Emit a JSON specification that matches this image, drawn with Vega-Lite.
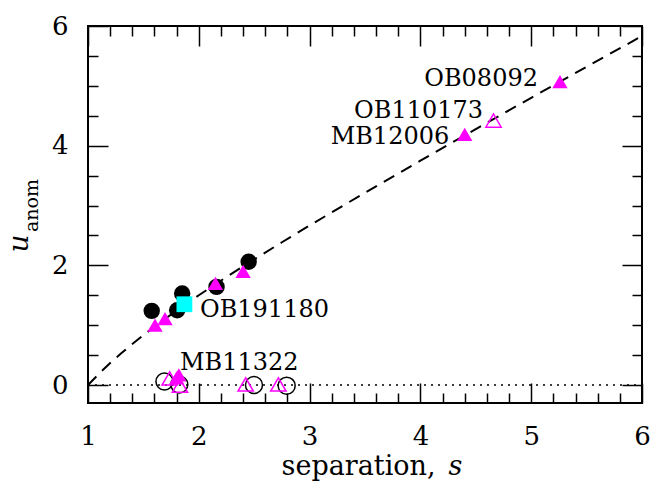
{
  "$schema": "https://vega.github.io/schema/vega-lite/v6.json",
  "width": 554,
  "height": 377,
  "autosize": {"type": "none"},
  "padding": {"left": 88, "top": 26, "right": 22, "bottom": 100},
  "background": "white",
  "config": {
    "view": {"stroke": "black", "strokeWidth": 2},
    "axis": {
      "domain": false,
      "grid": false,
      "tickColor": "black",
      "tickWidth": 1.5,
      "labelFont": "DejaVu Serif",
      "labelFontSize": 26,
      "labelColor": "black",
      "labelOverlap": false,
      "labelFlush": false,
      "labelBound": false,
      "titleFont": "DejaVu Serif",
      "titleColor": "black",
      "titleFontWeight": "normal"
    }
  },
  "datasets": {
    "zero": [{"s": 1, "u": 0}, {"s": 6, "u": 0}],
    "curve": [
      {"s": 1.0, "u": 0.0},
      {"s": 1.1, "u": 0.1909},
      {"s": 1.2, "u": 0.3667},
      {"s": 1.3, "u": 0.5308},
      {"s": 1.4, "u": 0.6857},
      {"s": 1.5, "u": 0.8333},
      {"s": 1.6, "u": 0.975},
      {"s": 1.7, "u": 1.1118},
      {"s": 1.8, "u": 1.2444},
      {"s": 1.9, "u": 1.3737},
      {"s": 2.0, "u": 1.5},
      {"s": 2.25, "u": 1.8056},
      {"s": 2.5, "u": 2.1},
      {"s": 2.75, "u": 2.3864},
      {"s": 3.0, "u": 2.6667},
      {"s": 3.5, "u": 3.2143},
      {"s": 4.0, "u": 3.75},
      {"s": 4.5, "u": 4.2778},
      {"s": 5.0, "u": 4.8},
      {"s": 5.5, "u": 5.3182},
      {"s": 6.0, "u": 5.8333}
    ],
    "points": [
      {"kind": "open circle", "s": 1.69, "u": 0.06},
      {"kind": "open circle", "s": 1.824, "u": 0.01},
      {"kind": "open circle", "s": 2.498, "u": 0.0},
      {"kind": "open circle", "s": 2.793, "u": -0.01},
      {"kind": "filled circle", "s": 1.575, "u": 1.24},
      {"kind": "filled circle", "s": 1.805, "u": 1.25},
      {"kind": "filled circle", "s": 1.85, "u": 1.53},
      {"kind": "filled circle", "s": 2.16, "u": 1.64},
      {"kind": "filled circle", "s": 2.45, "u": 2.06},
      {"kind": "square", "s": 1.87, "u": 1.35},
      {"kind": "open triangle", "s": 1.737, "u": 0.11},
      {"kind": "open triangle", "s": 1.83, "u": -0.01},
      {"kind": "open triangle", "s": 2.423, "u": 0.01},
      {"kind": "open triangle", "s": 2.718, "u": 0.01},
      {"kind": "open triangle", "s": 4.66, "u": 4.42},
      {"kind": "filled triangle", "s": 1.605, "u": 1.0},
      {"kind": "filled triangle", "s": 1.695, "u": 1.11},
      {"kind": "filled triangle", "s": 2.15, "u": 1.7},
      {"kind": "filled triangle", "s": 2.4, "u": 1.9},
      {"kind": "filled triangle", "s": 1.8, "u": 0.12},
      {"kind": "filled triangle", "s": 1.82, "u": 0.17},
      {"kind": "filled triangle", "s": 4.4, "u": 4.19},
      {"kind": "filled triangle", "s": 5.26, "u": 5.07}
    ],
    "labels": [
      {"name": "OB08092", "s": 5.061, "u": 5.0, "side": "right"},
      {"name": "OB110173", "s": 4.565, "u": 4.457, "side": "right"},
      {"name": "MB12006", "s": 4.26, "u": 4.03, "side": "right"},
      {"name": "OB191180", "s": 2.011, "u": 1.142, "side": "left"},
      {"name": "MB11322", "s": 1.83, "u": 0.245, "side": "left"}
    ]
  },
  "layer": [
    {
      "data": {"name": "zero"},
      "mark": {"type": "line", "color": "black", "strokeWidth": 1.5, "strokeDash": [2, 5]},
      "encoding": {
        "x": {
          "field": "s", "type": "quantitative",
          "scale": {"domain": [1, 6], "nice": false, "zero": false},
          "axis": {
            "orient": "bottom",
            "values": [1, 1.2, 1.4, 1.6, 1.8, 2, 2.2, 2.4, 2.6, 2.8, 3, 3.2, 3.4, 3.6, 3.8, 4, 4.2, 4.4, 4.6, 4.8, 5, 5.2, 5.4, 5.6, 5.8, 6],
            "labelExpr": "abs(datum.value - round(datum.value)) < 0.01 ? format(datum.value, 'd') : ''",
            "tickSize": {"condition": {"test": "abs(datum.value - round(datum.value)) < 0.01", "value": -20}, "value": -10},
            "labelPadding": 40,
            "title": "separation,",
            "titleFontSize": 27,
            "titleFontStyle": "normal",
            "titleAlign": "right",
            "titleBaseline": "alphabetic",
            "titleX": 347,
            "titleY": 71
          }
        },
        "y": {
          "field": "u", "type": "quantitative",
          "scale": {"domain": [-0.3, 6], "nice": false, "zero": false},
          "axis": {
            "orient": "left",
            "values": [0, 0.5, 1, 1.5, 2, 2.5, 3, 3.5, 4, 4.5, 5, 5.5, 6],
            "labelExpr": "abs(datum.value / 2 - round(datum.value / 2)) < 0.01 ? format(datum.value, 'd') : ''",
            "tickSize": {"condition": {"test": "abs(datum.value / 2 - round(datum.value / 2)) < 0.01", "value": -20}, "value": -10},
            "labelPadding": 40,
            "title": "u",
            "titleFontSize": 28,
            "titleFontStyle": "italic",
            "titleAngle": 270,
            "titleAlign": "center",
            "titleBaseline": "alphabetic",
            "titleX": -61,
            "titleY": 217
          }
        }
      }
    },
    {
      "data": {"name": "curve"},
      "mark": {"type": "line", "color": "black", "strokeWidth": 2, "strokeDash": [12, 8]},
      "encoding": {
        "x": {
          "field": "s", "type": "quantitative",
          "scale": {"domain": [1, 6], "nice": false, "zero": false},
          "axis": {
            "orient": "top",
            "values": [1, 1.2, 1.4, 1.6, 1.8, 2, 2.2, 2.4, 2.6, 2.8, 3, 3.2, 3.4, 3.6, 3.8, 4, 4.2, 4.4, 4.6, 4.8, 5, 5.2, 5.4, 5.6, 5.8, 6],
            "labels": false,
            "tickSize": {"condition": {"test": "abs(datum.value - round(datum.value)) < 0.01", "value": -20}, "value": -10},
            "title": "s",
            "titleFontSize": 27,
            "titleFontStyle": "italic",
            "titleAngle": 0,
            "titleAlign": "left",
            "titleBaseline": "alphabetic",
            "titleX": 360,
            "titleY": 448
          }
        },
        "y": {
          "field": "u", "type": "quantitative",
          "scale": {"domain": [-0.3, 6], "nice": false, "zero": false},
          "axis": {
            "orient": "right",
            "values": [0, 0.5, 1, 1.5, 2, 2.5, 3, 3.5, 4, 4.5, 5, 5.5, 6],
            "labels": false,
            "tickSize": {"condition": {"test": "abs(datum.value / 2 - round(datum.value / 2)) < 0.01", "value": -20}, "value": -10},
            "title": "anom",
            "titleFontSize": 19,
            "titleFontStyle": "normal",
            "titleAngle": 270,
            "titleAlign": "center",
            "titleBaseline": "alphabetic",
            "titleX": -605,
            "titleY": 179
          }
        }
      }
    },
    {
      "data": {"name": "points"},
      "transform": [{"filter": "datum.kind === 'open circle'"}],
      "mark": {"type": "point", "shape": "circle", "filled": false, "stroke": "black", "strokeWidth": 1.5, "size": 290, "opacity": 1},
      "encoding": {
        "x": {"field": "s", "type": "quantitative", "scale": {"domain": [1, 6], "nice": false, "zero": false}, "axis": null},
        "y": {"field": "u", "type": "quantitative", "scale": {"domain": [-0.3, 6], "nice": false, "zero": false}, "axis": null}
      }
    },
    {
      "data": {"name": "points"},
      "transform": [{"filter": "datum.kind === 'filled circle'"}],
      "mark": {"type": "point", "shape": "circle", "filled": true, "color": "black", "size": 270, "opacity": 1},
      "encoding": {
        "x": {"field": "s", "type": "quantitative", "scale": {"domain": [1, 6], "nice": false, "zero": false}, "axis": null},
        "y": {"field": "u", "type": "quantitative", "scale": {"domain": [-0.3, 6], "nice": false, "zero": false}, "axis": null}
      }
    },
    {
      "data": {"name": "points"},
      "transform": [{"filter": "datum.kind === 'square'"}],
      "mark": {"type": "point", "shape": "square", "filled": true, "color": "#00FFFF", "size": 250, "opacity": 1},
      "encoding": {
        "x": {"field": "s", "type": "quantitative", "scale": {"domain": [1, 6], "nice": false, "zero": false}, "axis": null},
        "y": {"field": "u", "type": "quantitative", "scale": {"domain": [-0.3, 6], "nice": false, "zero": false}, "axis": null}
      }
    },
    {
      "data": {"name": "points"},
      "transform": [{"filter": "datum.kind === 'open triangle'"}],
      "mark": {"type": "point", "shape": "triangle-up", "filled": false, "stroke": "#FF00FF", "strokeWidth": 1.5, "size": 235, "opacity": 1},
      "encoding": {
        "x": {"field": "s", "type": "quantitative", "scale": {"domain": [1, 6], "nice": false, "zero": false}, "axis": null},
        "y": {"field": "u", "type": "quantitative", "scale": {"domain": [-0.3, 6], "nice": false, "zero": false}, "axis": null}
      }
    },
    {
      "data": {"name": "points"},
      "transform": [{"filter": "datum.kind === 'filled triangle'"}],
      "mark": {"type": "point", "shape": "triangle-up", "filled": true, "color": "#FF00FF", "size": 235, "opacity": 1},
      "encoding": {
        "x": {"field": "s", "type": "quantitative", "scale": {"domain": [1, 6], "nice": false, "zero": false}, "axis": null},
        "y": {"field": "u", "type": "quantitative", "scale": {"domain": [-0.3, 6], "nice": false, "zero": false}, "axis": null}
      }
    },
    {
      "data": {"name": "labels"},
      "transform": [{"filter": "datum.side === 'right'"}],
      "mark": {"type": "text", "font": "DejaVu Serif", "fontSize": 24, "align": "right", "baseline": "alphabetic", "color": "black"},
      "encoding": {
        "x": {"field": "s", "type": "quantitative", "scale": {"domain": [1, 6], "nice": false, "zero": false}, "axis": null},
        "y": {"field": "u", "type": "quantitative", "scale": {"domain": [-0.3, 6], "nice": false, "zero": false}, "axis": null},
        "text": {"field": "name"}
      }
    },
    {
      "data": {"name": "labels"},
      "transform": [{"filter": "datum.side === 'left'"}],
      "mark": {"type": "text", "font": "DejaVu Serif", "fontSize": 24, "align": "left", "baseline": "alphabetic", "color": "black"},
      "encoding": {
        "x": {"field": "s", "type": "quantitative", "scale": {"domain": [1, 6], "nice": false, "zero": false}, "axis": null},
        "y": {"field": "u", "type": "quantitative", "scale": {"domain": [-0.3, 6], "nice": false, "zero": false}, "axis": null},
        "text": {"field": "name"}
      }
    }
  ],
  "resolve": {"axis": {"x": "independent", "y": "independent"}}
}
